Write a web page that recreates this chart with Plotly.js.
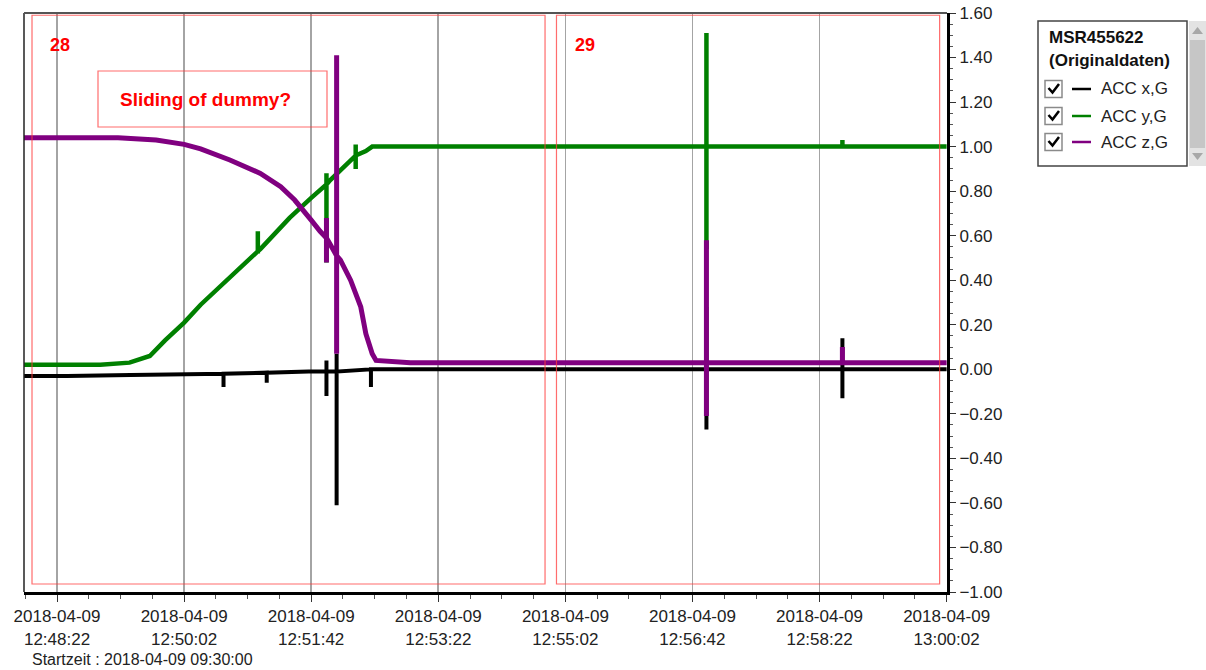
<!DOCTYPE html>
<html>
<head>
<meta charset="utf-8">
<script src="https://cdn.plot.ly/plotly-3.0.1.min.js"></script>
<style>
html,body{margin:0;padding:0;background:#fff;}
#chart{width:1206px;height:670px;}
</style>
</head>
<body>
<div id="chart"></div>
<script>
// ---------------- data ----------------
const DAY = '2018-04-09 ';
const seriesNames = ['ACC x,G', 'ACC y,G', 'ACC z,G'];
const seriesColors = ['#000000', '#008000', '#800080'];

const accXTimes = ['12:47:56','12:48:30','12:49:20','12:50:10','12:50:33','12:50:33','12:50:33','12:51:07','12:51:07','12:51:07','12:51:40','12:51:54','12:51:54','12:51:54','12:51:54','12:52:02','12:52:02','12:52:02','12:52:02','12:52:29','12:52:29','12:52:29','12:56:53','12:56:53','12:56:53','12:56:53','12:58:40','12:58:40','12:58:40','12:58:40','13:00:02'];
const accXVals  = [-0.03,-0.03,-0.025,-0.02,-0.02,-0.08,-0.02,-0.015,-0.06,-0.015,-0.01,-0.01,-0.12,0.04,-0.01,-0.01,0.07,-0.61,-0.01,0.0,-0.08,0.0,0.0,0.28,-0.27,0.0,0.0,0.14,-0.13,0.0,0.0];

const accYTimes = ['12:47:56','12:48:40','12:48:56','12:49:19','12:49:35','12:49:47','12:50:02','12:50:15','12:50:38','12:51:00','12:51:00','12:51:00','12:51:00','12:51:02','12:51:25','12:51:42','12:51:54','12:51:54','12:51:54','12:51:54','12:51:57','12:52:13','12:52:17','12:52:17','12:52:17','12:52:17','12:52:25','12:52:30','12:56:53','12:56:53','12:56:53','12:56:53','12:58:40','12:58:40','12:58:40','13:00:02'];
const accYVals  = [0.02,0.02,0.02,0.03,0.06,0.13,0.21,0.29,0.41,0.53,0.62,0.52,0.53,0.54,0.68,0.77,0.83,0.88,0.48,0.83,0.85,0.94,0.96,1.01,0.90,0.96,0.98,1.00,1.00,1.51,0.54,1.00,1.00,1.03,1.00,1.00];

const accZTimes = ['12:47:56','12:48:30','12:49:10','12:49:40','12:50:02','12:50:15','12:50:38','12:51:02','12:51:18','12:51:29','12:51:33','12:51:42','12:51:49','12:51:54','12:51:54','12:51:54','12:51:54','12:51:57','12:52:02','12:52:02','12:52:02','12:52:02','12:52:05','12:52:13','12:52:21','12:52:25','12:52:30','12:52:33','12:53:00','12:56:53','12:56:53','12:56:53','12:56:53','12:58:40','12:58:40','12:58:40','13:00:02'];
const accZVals  = [1.04,1.04,1.04,1.03,1.01,0.99,0.94,0.88,0.82,0.76,0.73,0.67,0.62,0.59,0.68,0.48,0.59,0.56,0.51,1.41,0.07,0.51,0.49,0.40,0.28,0.16,0.07,0.04,0.03,0.03,0.58,-0.21,0.03,0.03,0.10,0.03,0.03];

const xTickStart = '12:48:22';
const xRange = ['12:47:56', '13:00:02.3'];
const yRange = [-1.0, 1.6];

// marked regions and labels
const regionLabels = ['28', '29'];
const regionStarts = ['12:48:02.3', '12:54:55'];
const regionEnds   = ['12:54:46', '12:59:56.5'];
const regionTop = 1.59, regionBottom = -0.964;
const noteText = 'Sliding of dummy?';
const legendTitle = ['MSR455622', '(Originaldaten)'];
const startText = 'Startzeit : 2018-04-09 09:30:00';

// ---------------- layout helpers ----------------
const L = 24, R = 947, T = 13, B = 592;
const PX = x => (x - L) / (R - L);
const PY = y => (B - y) / (B - T);
const FONT = '"Liberation Sans", Arial, sans-serif';
const d = t => DAY + t;

const widths = [4, 4.5, 5];
const traces = [
  {x: accXTimes.map(d), y: accXVals},
  {x: accYTimes.map(d), y: accYVals},
  {x: accZTimes.map(d), y: accZVals}
].map((s, i) => ({
  type: 'scatter', mode: 'lines', x: s.x, y: s.y, name: seriesNames[i],
  line: {color: seriesColors[i], width: widths[i]}, hoverinfo: 'skip'
}));

const shapes = [];
const annotations = [];

// frame lines (left thin, top grey)
shapes.push({type:'line', xref:'paper', yref:'paper', x0:0, x1:0, y0:0, y1:1, line:{color:'#222', width:1.5}});
shapes.push({type:'line', xref:'paper', yref:'paper', x0:0, x1:1, y0:1, y1:1, line:{color:'#555', width:2}});

// region rectangles
regionLabels.forEach((lab, i) => {
  shapes.push({type:'rect', xref:'x', yref:'y', x0:d(regionStarts[i]), x1:d(regionEnds[i]),
    y0:regionBottom, y1:regionTop, line:{color:'rgba(255,60,60,0.75)', width:1.2}, fillcolor:'rgba(0,0,0,0)'});
});
annotations.push({xref:'paper', yref:'paper', x:PX(60), y:PY(45), text:'<b>'+regionLabels[0]+'</b>', showarrow:false,
  font:{family:FONT, size:18, color:'#ff0000'}, xanchor:'center', yanchor:'middle'});
annotations.push({xref:'paper', yref:'paper', x:PX(585), y:PY(45), text:'<b>'+regionLabels[1]+'</b>', showarrow:false,
  font:{family:FONT, size:18, color:'#ff0000'}, xanchor:'center', yanchor:'middle'});

// note box
shapes.push({type:'rect', xref:'paper', yref:'paper', x0:PX(98), x1:PX(327), y0:PY(127), y1:PY(71),
  line:{color:'rgba(255,60,60,0.75)', width:1.2}, fillcolor:'rgba(255,255,255,0)'});
annotations.push({xref:'paper', yref:'paper', x:PX(205), y:PY(99), text:'<b>'+noteText+'</b>', showarrow:false,
  font:{family:FONT, size:19, color:'#ff0000'}, xanchor:'center', yanchor:'middle'});

// start time text
annotations.push({xref:'paper', yref:'paper', x:PX(30), y:PY(659), text:startText, showarrow:false,
  font:{family:FONT, size:16, color:'#222'}, xanchor:'left', yanchor:'middle'});

// ---------------- legend (drawn manually) ----------------
shapes.push({type:'rect', xref:'paper', yref:'paper', x0:PX(1038), x1:PX(1187), y0:PY(166), y1:PY(21),
  line:{color:'#444', width:1.5}, fillcolor:'#ffffff'});
// scrollbar
shapes.push({type:'rect', xref:'paper', yref:'paper', x0:PX(1189), x1:PX(1206), y0:PY(166), y1:PY(21),
  line:{width:0}, fillcolor:'#e3e3e3'});
shapes.push({type:'rect', xref:'paper', yref:'paper', x0:PX(1190), x1:PX(1205), y0:PY(148), y1:PY(40),
  line:{width:0}, fillcolor:'#c6c6c6'});
shapes.push({type:'path', xref:'paper', yref:'paper',
  path:`M ${PX(1192)},${PY(34)} L ${PX(1203)},${PY(34)} L ${PX(1197.5)},${PY(27)} Z`, line:{width:0}, fillcolor:'#a8a8a8'});
shapes.push({type:'path', xref:'paper', yref:'paper',
  path:`M ${PX(1192)},${PY(153)} L ${PX(1203)},${PY(153)} L ${PX(1197.5)},${PY(160)} Z`, line:{width:0}, fillcolor:'#a8a8a8'});

annotations.push({xref:'paper', yref:'paper', x:PX(1047), y:PY(37), text:'<b>'+legendTitle[0]+'</b>', showarrow:false,
  font:{family:FONT, size:17, color:'#111'}, xanchor:'left', yanchor:'middle'});
annotations.push({xref:'paper', yref:'paper', x:PX(1047), y:PY(61), text:'<b>'+legendTitle[1]+'</b>', showarrow:false,
  font:{family:FONT, size:17, color:'#111'}, xanchor:'left', yanchor:'middle'});

const rowY = [89, 116, 142];
seriesNames.forEach((name, i) => {
  const cy = rowY[i];
  shapes.push({type:'rect', xref:'paper', yref:'paper', x0:PX(1045), x1:PX(1062), y0:PY(cy+8.5), y1:PY(cy-8.5),
    line:{color:'#8a8a8a', width:1.5}, fillcolor:'#ffffff'});
  shapes.push({type:'path', xref:'paper', yref:'paper',
    path:`M ${PX(1048.5)},${PY(cy-1)} L ${PX(1052.5)},${PY(cy+3.5)} L ${PX(1059)},${PY(cy-5)}`,
    line:{color:'#000', width:2.5}});
  shapes.push({type:'line', xref:'paper', yref:'paper', x0:PX(1072), x1:PX(1091), y0:PY(cy), y1:PY(cy),
    line:{color:seriesColors[i], width:2.5}});
  annotations.push({xref:'paper', yref:'paper', x:PX(1099), y:PY(cy), text:name, showarrow:false,
    font:{family:FONT, size:17, color:'#222'}, xanchor:'left', yanchor:'middle'});
});

const layout = {
  width: 1206, height: 670,
  margin: {l: L, r: 1206 - R, t: T, b: 670 - B, pad: 0},
  paper_bgcolor: '#ffffff', plot_bgcolor: '#ffffff',
  showlegend: false, hovermode: false,
  font: {family: FONT, size: 17, color: '#222'},
  xaxis: {
    type: 'date', range: xRange.map(d),
    tick0: d(xTickStart), dtick: 100000, tickmode: 'linear',
    tickformat: '%Y-%m-%d<br>%H:%M:%S',
    showgrid: true, gridcolor: '#a4a4a4', gridwidth: 1.6,
    ticks: 'outside', ticklen: 7, tickwidth: 1, tickcolor: '#333',
    minor: {dtick: 25000, tick0: d(xTickStart), ticks: 'outside', ticklen: 4, tickcolor: '#555', showgrid: false},
    showline: true, linecolor: '#000', linewidth: 3,
    zeroline: false, fixedrange: true,
    tickfont: {family: FONT, size: 17, color: '#222'}
  },
  yaxis: {
    side: 'right', range: yRange, dtick: 0.2, tick0: 0, tickmode: 'linear',
    tickformat: '.2f', showgrid: false, zeroline: false,
    ticks: 'outside', ticklen: 6, tickwidth: 1, tickcolor: '#333',
    minor: {dtick: 0.05, ticks: 'outside', ticklen: 3, tickcolor: '#555', showgrid: false},
    showline: true, linecolor: '#000', linewidth: 3, fixedrange: true,
    tickfont: {family: FONT, size: 17, color: '#222'}
  },
  shapes: shapes,
  annotations: annotations
};

Plotly.newPlot('chart', traces, layout, {displayModeBar: false, staticPlot: true});
</script>
</body>
</html>
